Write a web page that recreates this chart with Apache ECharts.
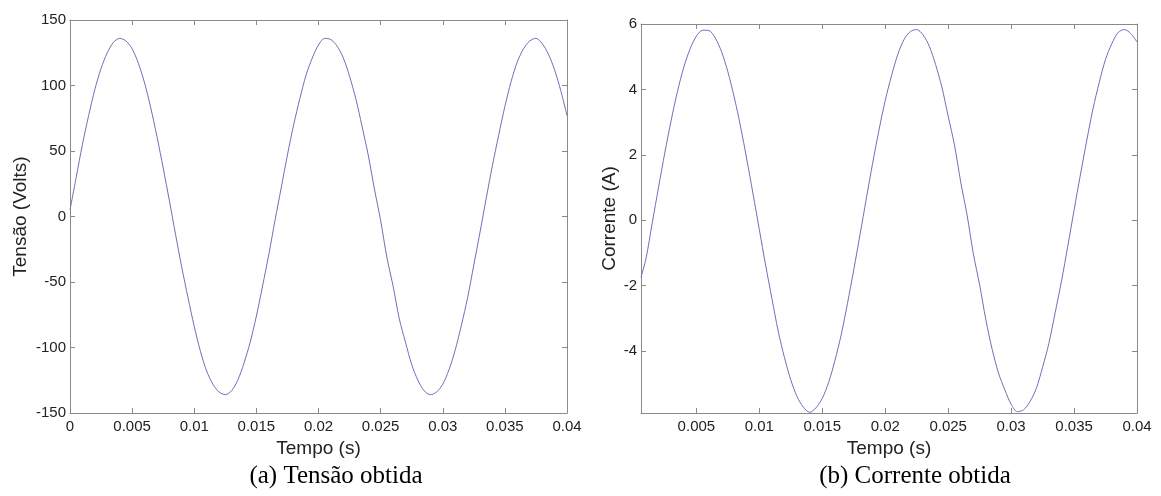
<!DOCTYPE html>
<html>
<head>
<meta charset="utf-8">
<script src="https://cdn.jsdelivr.net/npm/echarts@6/dist/echarts.min.js"></script>
<style>
html,body{margin:0;padding:0;background:#fff;}
#c{width:1161px;height:496px;}
</style>
</head>
<body>
<div id="c"></div>
<script>
// ---- data ----
const timeV = [0,0.0005,0.001,0.0015,0.002,0.0025,0.003,0.0035,0.004,0.0045,0.005,0.0055,0.006,0.0065,0.007,0.0075,0.008,0.0085,0.009,0.0095,0.010,0.0105,0.011,0.0115,0.012,0.0125,0.013,0.0135,0.014,0.0145,0.015,0.0155,0.016,0.0165,0.017,0.0175,0.018,0.0185,0.019,0.0195,0.020,0.0205,0.021,0.0215,0.022,0.0225,0.023,0.0235,0.024,0.0245,0.025,0.0255,0.026,0.0265,0.027,0.0275,0.028,0.0285,0.029,0.0295,0.030,0.0305,0.031,0.0315,0.032,0.0325,0.033,0.0335,0.034,0.0345,0.035,0.0355,0.036,0.0365,0.037,0.0375,0.038,0.0385,0.039,0.0395,0.040];
const voltage = [5,30,55,77,97,113,125,133,136,134,128,117,102,83,61,37,12,-14,-39,-62,-84,-103,-118,-128,-134,-136,-133,-125,-112,-96,-76,-53,-29,-3,22,47,70,90,108,121,131,136,135,130,121,107,90,69,47,21,-3,-31,-53,-78,-96,-113,-125,-133,-136,-134,-128,-117,-102,-83,-62,-37,-12,14,39,62,84,103,118,128,134,136,132,124,112,96,77];

const timeI = [0.0006,0.001,0.0015,0.002,0.0025,0.003,0.0035,0.004,0.0045,0.005,0.0055,0.006,0.0065,0.007,0.0075,0.008,0.0085,0.009,0.0095,0.010,0.0105,0.011,0.0115,0.012,0.0125,0.013,0.0135,0.014,0.0145,0.015,0.0155,0.016,0.0165,0.017,0.0175,0.018,0.0185,0.019,0.0195,0.020,0.0205,0.021,0.0215,0.022,0.0225,0.023,0.0235,0.024,0.0245,0.025,0.0255,0.026,0.0265,0.027,0.0275,0.028,0.0285,0.029,0.0295,0.030,0.0305,0.031,0.0315,0.032,0.0325,0.033,0.0335,0.034,0.0345,0.035,0.0355,0.036,0.0365,0.037,0.0375,0.038,0.0385,0.039,0.0395,0.040];
const current = [-1.75,-1.17,-0.07,1.02,2.08,3.06,3.94,4.68,5.24,5.63,5.81,5.80,5.57,5.15,4.54,3.77,2.88,1.87,0.80,-0.29,-1.38,-2.40,-3.40,-4.21,-4.89,-5.40,-5.72,-5.88,-5.74,-5.45,-4.97,-4.30,-3.51,-2.55,-1.52,-0.44,0.66,1.74,2.75,3.66,4.42,5.07,5.53,5.77,5.83,5.67,5.32,4.76,4.07,3.18,2.30,1.16,0.16,-1.03,-1.98,-3.06,-3.96,-4.68,-5.19,-5.63,-5.86,-5.80,-5.55,-5.15,-4.50,-3.77,-2.83,-1.87,-0.80,0.30,1.38,2.42,3.40,4.21,4.92,5.40,5.74,5.83,5.71,5.45];

const xTicksA = [0,0.005,0.01,0.015,0.02,0.025,0.03,0.035,0.04];
const yTicksA = [-150,-100,-50,0,50,100,150];
const xTicksB = [0.005,0.01,0.015,0.02,0.025,0.03,0.035,0.04];
const yTicksB = [-4,-2,0,2,4,6];

const xNameA = 'Tempo (s)', yNameA = 'Tensão (Volts)', capA = '(a) Tensão obtida';
const xNameB = 'Tempo (s)', yNameB = 'Corrente (A)', capB = '(b) Corrente obtida';

// ---- styling ----
const FRAME = '#8a8a8a';
const LINE = '#6d70b8';
const labelStyle = {color:'#222', fontFamily:'Liberation Sans, Arial, sans-serif', fontSize:15};
const nameStyle = {color:'#222', fontFamily:'Liberation Sans, Arial, sans-serif', fontSize:19};
const fmt = v => String(parseFloat(Number(v).toFixed(4)));

function mainX(grid, min, max, ticks, name) {
  return {
    type:'value', gridIndex:grid, min:min, max:max, position:'bottom',
    name:name, nameLocation:'middle', nameGap:19, nameTextStyle:nameStyle,
    axisLine:{show:true, onZero:false, lineStyle:{color:FRAME, width:1}},
    axisTick:{show:true, inside:true, length:5, customValues:ticks, lineStyle:{color:FRAME}},
    axisLabel:{show:true, customValues:ticks, formatter:fmt, margin:6, ...labelStyle},
    splitLine:{show:false}
  };
}
function sideX(grid, min, max, ticks) {
  return {
    type:'value', gridIndex:grid, min:min, max:max, position:'top',
    axisLine:{show:true, onZero:false, lineStyle:{color:FRAME, width:1}},
    axisTick:{show:true, inside:true, length:5, customValues:ticks, lineStyle:{color:FRAME}},
    axisLabel:{show:false}, splitLine:{show:false}
  };
}
function mainY(grid, min, max, ticks, name, gap) {
  return {
    type:'value', gridIndex:grid, min:min, max:max, position:'left',
    name:name, nameLocation:'middle', nameGap:gap, nameTextStyle:nameStyle,
    axisLine:{show:true, onZero:false, lineStyle:{color:FRAME, width:1}},
    axisTick:{show:true, inside:true, length:5, customValues:ticks, lineStyle:{color:FRAME}},
    axisLabel:{show:true, customValues:ticks, formatter:fmt, margin:4, ...labelStyle},
    splitLine:{show:false}
  };
}
function sideY(grid, min, max, ticks) {
  return {
    type:'value', gridIndex:grid, min:min, max:max, position:'right',
    axisLine:{show:true, onZero:false, lineStyle:{color:FRAME, width:1}},
    axisTick:{show:true, inside:true, length:5, customValues:ticks, lineStyle:{color:FRAME}},
    axisLabel:{show:false}, splitLine:{show:false}
  };
}

const chart = echarts.init(document.getElementById('c'), null, {renderer:'canvas'});
chart.setOption({
  animation:false,
  backgroundColor:'#ffffff',
  title:[
    {text:capA, left:331, top:459, textAlign:'center',
     textStyle:{fontFamily:'Liberation Serif, Times New Roman, serif', fontSize:25, fontWeight:'normal', color:'#000'}},
    {text:capB, left:910, top:459, textAlign:'center',
     textStyle:{fontFamily:'Liberation Serif, Times New Roman, serif', fontSize:25, fontWeight:'normal', color:'#000'}}
  ],
  grid:[
    {left:70, top:20, width:497, height:393},
    {left:641, top:24, width:496, height:389}
  ],
  xAxis:[
    mainX(0, 0, 0.04, xTicksA, xNameA),
    sideX(0, 0, 0.04, xTicksA),
    mainX(1, 0.0006, 0.04, xTicksB, xNameB),
    sideX(1, 0.0006, 0.04, xTicksB)
  ],
  yAxis:[
    mainY(0, -150, 150, yTicksA, yNameA, 40),
    sideY(0, -150, 150, yTicksA),
    mainY(1, -5.9, 6, yTicksB, yNameB, 21),
    sideY(1, -5.9, 6, yTicksB)
  ],
  series:[
    {type:'line', xAxisIndex:0, yAxisIndex:0, showSymbol:false, smooth:0.3,
     lineStyle:{color:LINE, width:1}, itemStyle:{color:LINE},
     data: timeV.map((t,i)=>[t, voltage[i]])},
    {type:'line', xAxisIndex:2, yAxisIndex:2, showSymbol:false, smooth:0.3,
     lineStyle:{color:LINE, width:1}, itemStyle:{color:LINE},
     data: timeI.map((t,i)=>[t, current[i]])}
  ]
});
</script>
</body>
</html>
